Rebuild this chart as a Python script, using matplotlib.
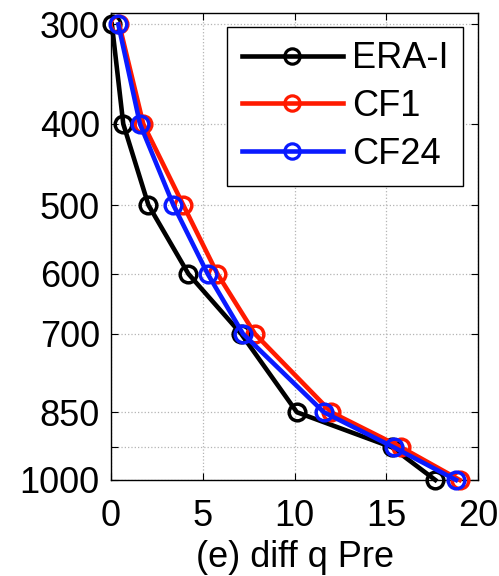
"""
Profile of q difference by pressure level: ERA-I against CF1 and CF24.
"""

import numpy as np
import matplotlib
matplotlib.use("Agg")
import matplotlib.pyplot as plt
from matplotlib.lines import Line2D

# pressure levels (hPa) and the values
levels = [300, 400, 500, 600, 700, 850, 925, 1000]
era_i = [0.05, 0.67, 2.04, 4.22, 7.1, 10.13, 15.3, 17.67]
cf1 = [0.45, 1.76, 3.94, 5.8, 7.85, 12.0, 15.8, 19.0]
cf24 = [0.4, 1.58, 3.4, 5.27, 7.2, 11.6, 15.4, 18.8]

series_names = ["ERA-I", "CF1", "CF24"]
series_colors = ["black", "#ff1a00", "#0a1aff"]

ytick_vals = [300, 400, 500, 600, 700, 850, 925, 1000]
ytick_labels = ["300", "400", "500", "600", "700", "850", "", "1000"]
xtick_vals = [0, 5, 10, 15, 20]


def height_like(p):
    # standard-atmosphere style axis: proportional to p**0.19
    return np.power(np.clip(p, 1e-9, None), 0.19)


def height_like_inv(z):
    return np.power(np.clip(z, 1e-9, None), 1.0 / 0.19)


plt.rcParams["font.family"] = ["Liberation Sans", "DejaVu Sans"]
plt.rcParams["font.size"] = 26

fig = plt.figure(figsize=(4.99, 5.76), dpi=100)
ax = fig.add_axes([0.2224, 0.1667, 0.958 - 0.2224, 0.9774 - 0.1667])

ax.set_yscale("function", functions=(height_like, height_like_inv))

for vals, name, col in zip([era_i, cf1, cf24], series_names, series_colors):
    ax.plot(vals, levels, color=col, lw=3.3, marker="o", ms=12, mew=2.5,
            mfc="none", mec=col, label=name, clip_on=False, zorder=3)

ax.set_xlim(0, 20)
ax.set_ylim(1000, 290)
ax.set_xticks(xtick_vals)
ax.set_yticks(ytick_vals)
ax.set_yticklabels(ytick_labels)
ax.minorticks_off()

ax.grid(True, ls=":", color="#b4b4b4", lw=0.9)
ax.tick_params(direction="in", length=5, width=0.8, top=True, right=True,
               labelsize=26)
ax.tick_params(axis="y", pad=8)
ax.tick_params(axis="x", pad=14)
for sp in ax.spines.values():
    sp.set_linewidth(1.0)

ax.set_xlabel("(e) diff q Pre", fontsize=26, labelpad=4)

handles = [Line2D([], [], color=c, lw=3.3, marker="o", ms=11, mew=2.3, mfc="none")
           for c in series_colors]
leg = ax.legend(handles, series_names, loc="upper right",
                bbox_to_anchor=(0.959, 0.970), borderaxespad=0, fontsize=26,
                frameon=True, fancybox=False, framealpha=1, edgecolor="black",
                handlelength=2.8, handletextpad=0.25, labelspacing=0.35,
                borderpad=0.4)
leg.get_frame().set_linewidth(1.0)

fig.savefig("out.png", dpi=100)
